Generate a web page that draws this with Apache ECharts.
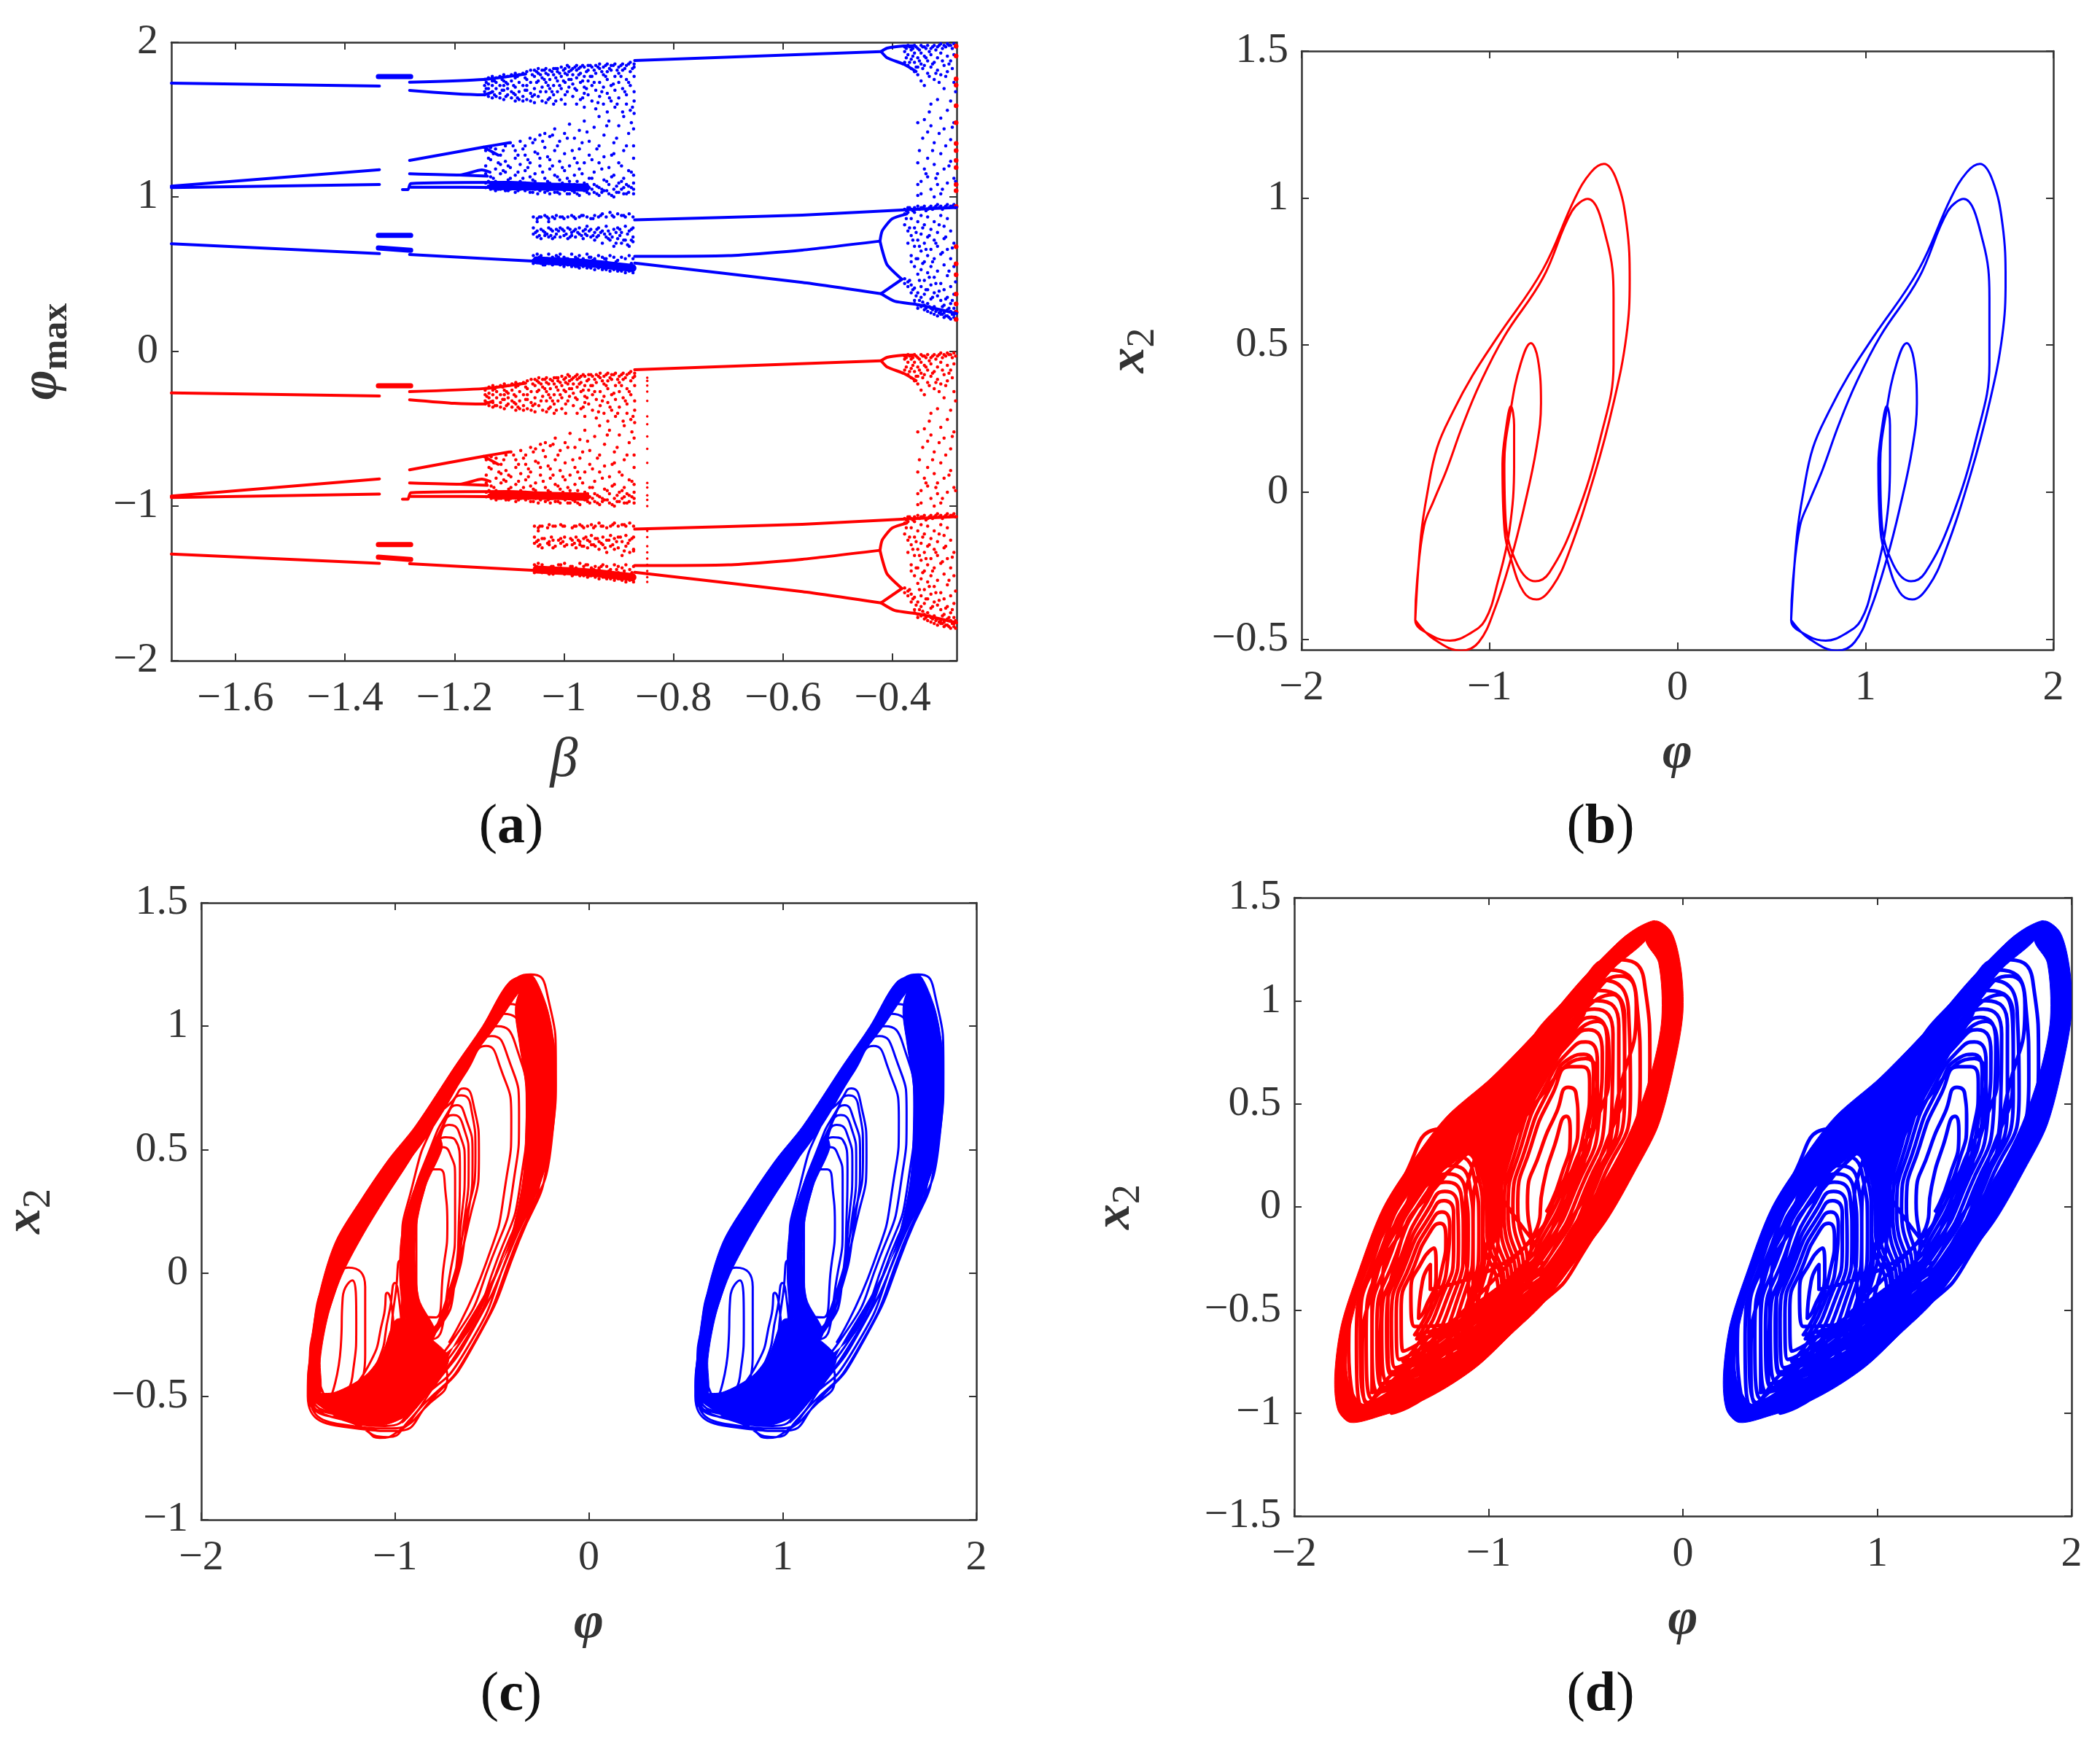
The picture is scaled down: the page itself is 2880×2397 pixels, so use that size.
<!DOCTYPE html>
<html><head><meta charset="utf-8">
<style>html,body{margin:0;padding:0;background:#fff}#c{width:2880px;height:2397px}</style>
<script src="https://cdn.jsdelivr.net/npm/echarts@6/dist/echarts.min.js"></script></head>
<body><div id="c"></div>
<script>
// ---------- tick values ----------
const aXTicks=[-1.6,-1.4,-1.2,-1,-.8,-.6,-.4];
const aYTicks=[-2,-1,0,1,2];
const phiTicks=[-2,-1,0,1,2];
const bYTicks=[-.5,0,.5,1,1.5];
const cYTicks=[-1,-.5,0,.5,1,1.5];
const dYTicks=[-1.5,-1,-.5,0,.5,1,1.5];
// ---------- panel (a) branches: flat beta,phi lists ----------
const aBlueBranches=[
[-1.717,1.736,-1.337,1.717],[-1.717,1.07,-1.337,1.176],[-1.717,1.06,-1.337,1.08],[-1.717,.697,-1.337,.633],
[-1.282,1.742,-1.147,1.76,-1.07,1.795],[-1.282,1.689,-1.2,1.667,-1.147,1.66,-1.13,1.68],
[-1.282,1.236,-1.147,1.322,-1.1,1.35],[-1.147,1.322,-1.12,1.27],
[-1.282,1.15,-1.19,1.142,-1.15,1.174,-1.135,1.16],[-1.19,1.142,-1.14,1.134],
[-1.295,1.047,-1.285,1.047,-1.28,1.086,-1.1,1.094,-1.02,1.08],[-1.28,1.063,-1.1,1.06,-1.02,1.05],
[-1.282,.627,-1.058,.585,-.95,.56],
[-.871,1.882,-.421,1.94],[-.421,1.94,-.41,1.962,-.38,1.976,-.36,1.978],[-.421,1.94,-.41,1.90,-.379,1.857,-.357,1.811],
[-.871,.851,-.565,.882,-.37,.918,-.283,.932],[-.871,.615,-.7,.62,-.565,.656,-.423,.714],
[-.423,.714,-.419,.78,-.401,.858,-.374,.89],[-.423,.714,-.419,.656,-.41,.561,-.383,.467],
[-.871,.572,-.565,.447,-.421,.374],[-.421,.374,-.383,.467],[-.421,.374,-.396,.325,-.352,.302,-.283,.245]];
const aBlueBlocks=[[-1.339,1.778,-1.28,1.778],[-1.339,.751,-1.28,.751],[-1.339,.67,-1.28,.655]];
const aBlueDense=[[-1.13,1.07,-1.0,1.065,-.96,1.06],[-1.05,.59,-.95,.57,-.875,.54]];
const aRedBranches=[
[-1.717,-.268,-1.337,-.288],[-1.717,-.935,-1.337,-.824],[-1.717,-.945,-1.337,-.922],[-1.717,-1.31,-1.337,-1.37],
[-1.282,-.26,-1.147,-.24,-1.07,-.205],[-1.282,-.312,-1.2,-.335,-1.147,-.34,-1.13,-.32],
[-1.282,-.765,-1.147,-.678,-1.1,-.65],[-1.147,-.678,-1.12,-.73],
[-1.282,-.85,-1.19,-.858,-1.15,-.826,-1.135,-.84],[-1.19,-.858,-1.14,-.866],
[-1.295,-.955,-1.285,-.955,-1.28,-.914,-1.1,-.906,-1.02,-.92],[-1.28,-.937,-1.1,-.94,-1.02,-.95],
[-1.282,-1.373,-1.058,-1.415,-.95,-1.44],
[-.871,-.118,-.421,-.06],[-.421,-.06,-.41,-.038,-.38,-.024,-.36,-.022],[-.421,-.06,-.41,-.10,-.379,-.143,-.357,-.189],
[-.871,-1.149,-.565,-1.118,-.37,-1.082,-.283,-1.068],[-.871,-1.385,-.7,-1.38,-.565,-1.344,-.423,-1.286],
[-.423,-1.286,-.419,-1.22,-.401,-1.142,-.374,-1.11],[-.423,-1.286,-.419,-1.344,-.41,-1.439,-.383,-1.533],
[-.871,-1.428,-.565,-1.553,-.421,-1.626],[-.421,-1.626,-.383,-1.533],[-.421,-1.626,-.396,-1.675,-.352,-1.698,-.283,-1.755]];
const aRedBlocks=[[-1.339,-.222,-1.28,-.222],[-1.339,-1.249,-1.28,-1.249],[-1.339,-1.33,-1.28,-1.345]];
const aRedDense=[[-1.13,-.93,-1.0,-.935,-.96,-.94],[-1.05,-1.41,-.95,-1.43,-.875,-1.46]];
// ---------- panel (a) scattered points: [beta, phi, phi, ...] ----------
const aBlueCloudTop=[[-1.145,1.76,1.68,1.72,1.66],[-1.138,1.77,1.70,1.65,1.73],[-1.131,1.75,1.68,1.72,1.64,1.78],[-1.124,1.70,1.77,1.65,1.74],[-1.117,1.78,1.67,1.72,1.64],[-1.110,1.75,1.69,1.79,1.63,1.72],[-1.103,1.73,1.66,1.78,1.70],[-1.096,1.79,1.64,1.75,1.68],[-1.089,1.71,1.62,1.77,1.66,1.80],[-1.082,1.74,1.63,1.68,1.79],[-1.075,1.80,1.72,1.65,1.62],[-1.068,1.76,1.69,1.63,1.81,1.72],[-1.061,1.82,1.74,1.67,1.62],[-1.054,1.78,1.70,1.82,1.61,1.66],[-1.047,1.83,1.75,1.65,1.80],[-1.040,1.71,1.82,1.62,1.77],[-1.033,1.80,1.83,1.68,1.61,1.74],[-1.026,1.76,1.82,1.64,1.70],[-1.019,1.83,1.72,1.60,1.79,1.66],[-1.012,1.81,1.75,1.68,1.83],[-1.005,1.84,1.70,1.78,1.63],[-0.998,1.80,1.83,1.66,1.74,1.60],[-0.991,1.76,1.84,1.71,1.81],[-0.984,1.83,1.65,1.79,1.73],[-0.977,1.85,1.77,1.60,1.69,1.82],[-0.970,1.80,1.84,1.74,1.63],[-0.963,1.84,1.71,1.78,1.58,1.67],[-0.956,1.82,1.85,1.75,1.66],[-0.949,1.78,1.84,1.62,1.72],[-0.942,1.85,1.80,1.69,1.57],[-0.935,1.83,1.74,1.86,1.65],[-0.928,1.84,1.79,1.60,1.71],[-0.921,1.86,1.76,1.81,1.67,1.55],[-0.914,1.82,1.85,1.72,1.62],[-0.907,1.86,1.78,1.58,1.69],[-0.900,1.84,1.80,1.74,1.64],[-0.893,1.86,1.82,1.55,1.70],[-0.886,1.85,1.76,1.66,1.60],[-0.879,1.87,1.81,1.72,1.56],[-0.872,1.86,1.84,1.78,1.68,1.62,1.54],
[-1.142,1.70,1.74],[-1.127,1.66,1.75],[-1.113,1.69,1.76],[-1.106,1.65,1.74],[-1.092,1.72,1.67],[-1.085,1.78,1.64],[-1.071,1.69,1.77],[-1.058,1.79,1.65],[-1.05,1.74,1.81],[-1.043,1.68,1.79],[-1.036,1.76,1.82],[-1.029,1.79,1.63,1.72],[-1.022,1.81,1.68],[-1.015,1.77,1.83,1.62],[-1.008,1.80,1.72],[-1.001,1.82,1.75],[-.994,1.68,1.79,1.85],[-.987,1.82,1.76],[-.98,1.70,1.84],[-.973,1.79,1.83],[-.966,1.75,1.85,1.64],[-.959,1.81,1.70],[-.952,1.85,1.78],[-.945,1.74,1.82],[-.938,1.84,1.61],[-.931,1.81,1.68],[-.924,1.78,1.85],[-.917,1.83,1.64],[-.91,1.85,1.73],[-.903,1.82,1.60],[-.896,1.78,1.85],[-.889,1.83,1.68],[-.882,1.86,1.74],[-.875,1.83,1.58]];
const aBlueCloudMid=[[-1.143,1.30,1.20,1.15,1.09,1.06],[-1.134,1.32,1.24,1.13,1.08,1.05],[-1.125,1.31,1.18,1.10,1.07,1.04],[-1.116,1.27,1.21,1.15,1.09,1.05],[-1.107,1.33,1.16,1.23,1.08,1.06,1.04],[-1.098,1.35,1.19,1.12,1.09,1.05],[-1.089,1.30,1.25,1.14,1.07,1.03],[-1.080,1.36,1.21,1.10,1.08,1.05],[-1.071,1.33,1.27,1.17,1.09,1.04],[-1.062,1.38,1.22,1.13,1.06,1.03],[-1.053,1.37,1.29,1.15,1.10,1.05],[-1.044,1.40,1.20,1.25,1.08,1.04],[-1.035,1.41,1.32,1.12,1.07,1.03],[-1.026,1.39,1.24,1.18,1.09,1.05,1.02],[-1.017,1.44,1.30,1.14,1.06,1.03],[-1.008,1.23,1.36,1.11,1.08,1.02],[-0.999,1.41,1.28,1.17,1.07,1.04],[-0.990,1.20,1.47,1.10,1.05,1.02],[-0.981,1.38,1.25,1.14,1.08,1.03],[-0.972,1.43,1.31,1.18,1.06,1.01],[-0.963,1.49,1.22,1.09,1.04],[-0.954,1.36,1.27,1.12,1.06,1.02],[-0.945,1.45,1.16,1.08,1.03],[-0.936,1.52,1.33,1.22,1.06,1.01],[-0.927,1.40,1.26,1.11,1.04],[-0.918,1.49,1.19,1.08,1.02],[-0.909,1.35,1.28,1.14,1.05,1.00],[-0.900,1.46,1.22,1.09,1.03],[-0.891,1.52,1.30,1.12,1.06,1.02],[-0.882,1.41,1.17,1.07,1.03],[-0.873,1.44,1.33,1.25,1.14,1.09,1.05,1.02],
[-1.138,1.25,1.1,1.07],[-1.129,1.28,1.12,1.06],[-1.12,1.22,1.09,1.05],[-1.111,1.3,1.17,1.07],[-1.102,1.2,1.11,1.04],[-1.093,1.33,1.08,1.06],[-1.084,1.27,1.16,1.04],[-1.075,1.31,1.12,1.07],[-1.066,1.24,1.19,1.05],[-1.057,1.35,1.11,1.03],[-1.048,1.28,1.07,1.02],[-1.039,1.36,1.16,1.06],[-1.03,1.26,1.1,1.04],[-1.021,1.4,1.2,1.07],[-1.012,1.33,1.13,1.03],[-1.003,1.19,1.09,1.05],[-.994,1.38,1.12,1.02],[-.985,1.3,1.07,1.04],[-.976,1.22,1.1,1.02],[-.967,1.35,1.15,1.06],[-.958,1.42,1.08,1.03],[-.949,1.24,1.12,1.05],[-.94,1.31,1.07,1.02],[-.931,1.18,1.05,1.03],[-.922,1.46,1.1,1.04],[-.913,1.27,1.13,1.01],[-.904,1.38,1.07,1.03],[-.895,1.2,1.1,1.05],[-.886,1.33,1.08,1.02],[-.877,1.48,1.16,1.06]];
const aBlueCloudLow=[[-1.056,.87,.80,.76,.62,.59,.57],[-1.049,.86,.84,.78,.74,.63,.60,.58],[-1.042,.87,.79,.73,.62,.58,.57],[-1.035,.88,.77,.75,.60,.59,.56],[-1.028,.86,.84,.80,.74,.63,.58,.57],[-1.021,.87,.78,.73,.61,.59,.56],[-1.014,.88,.79,.76,.62,.60,.57],[-1.007,.87,.74,.80,.63,.58,.56],[-1.000,.86,.78,.75,.61,.59,.55],[-0.993,.87,.80,.73,.60,.57,.56],[-0.986,.88,.77,.75,.63,.58,.55],[-0.979,.86,.79,.74,.61,.57,.55],[-0.972,.87,.80,.76,.62,.59,.54],[-0.965,.88,.78,.73,.60,.56,.55],[-0.958,.87,.81,.75,.63,.58,.54],[-0.951,.86,.79,.74,.61,.57,.54],[-0.944,.88,.77,.72,.60,.59,.53],[-0.937,.87,.80,.75,.62,.56,.54],[-0.930,.89,.78,.70,.61,.55,.53],[-0.923,.87,.81,.74,.60,.58,.53],[-0.916,.90,.76,.72,.62,.55,.52],[-0.909,.87,.79,.68,.61,.57,.53],[-0.902,.89,.80,.73,.59,.56,.52],[-0.895,.88,.77,.70,.61,.54,.52],[-0.888,.87,.81,.72,.60,.56,.51],[-0.881,.89,.78,.68,.62,.55,.52],[-0.874,.87,.80,.74,.71,.60,.53,.51],
[-1.052,.77,.6,.58],[-1.045,.87,.75,.61],[-1.038,.78,.59,.56],[-1.031,.87,.76,.6],[-1.024,.79,.75,.58],[-1.017,.86,.74,.6],[-1.01,.78,.61,.57],[-1.003,.87,.79,.59],[-.996,.76,.6,.57],[-.989,.79,.74,.58],[-.982,.87,.78,.56],[-.975,.77,.6,.55],[-.968,.88,.75,.58],[-.961,.79,.76,.56],[-.954,.78,.61,.55],[-.947,.86,.75,.59],[-.94,.79,.74,.55],[-.933,.88,.77,.58],[-.926,.76,.6,.54],[-.919,.78,.73,.57],[-.912,.88,.74,.54],[-.905,.77,.7,.58],[-.898,.79,.75,.53],[-.891,.88,.72,.56],[-.884,.76,.69,.53],[-.877,.79,.72,.57]];
const aBlueCloudEdge=[[-0.378,1.97,1.94,1.87,.92,.89,.82,.47,.44],[-0.372,1.98,1.92,1.85,.93,.90,.78,.70,.45,.42],[-0.366,1.97,1.95,1.89,1.83,.92,.86,.75,.62,.58,.43,.38],[-0.360,1.98,1.93,1.87,1.81,.93,.90,.80,.68,.55,.41,.33,.31],[-0.354,1.96,1.90,1.84,1.79,1.48,1.22,1.08,1.01,.94,.84,.72,.60,.50,.38,.30,.28],[-0.348,1.98,1.93,1.86,1.75,1.10,1.02,.93,.88,.76,.65,.53,.42,.35,.29],[-0.342,1.97,1.91,1.85,1.72,1.50,1.18,.94,.82,.70,.58,.46,.37,.30,.27],[-0.336,1.98,1.88,1.80,1.42,1.25,1.13,.92,.87,.74,.62,.51,.40,.31,.26],[-0.330,1.96,1.92,1.84,1.60,1.46,1.05,.94,.79,.66,.55,.43,.34,.28,.25],[-0.324,1.98,1.87,1.76,1.35,1.21,1.00,.93,.84,.72,.60,.48,.38,.29,.24],[-0.318,1.97,1.90,1.82,1.63,1.15,1.08,.95,.77,.68,.52,.36,.27,.23],[-0.312,1.99,1.93,1.79,1.51,1.28,1.02,.94,.88,.63,.44,.33,.26,.24],[-0.306,1.98,1.85,1.70,1.44,1.18,.93,.81,.73,.56,.40,.30,.25,.22],[-0.300,1.99,1.91,1.81,1.56,1.09,.95,.86,.66,.49,.35,.27,.23],[-0.294,1.98,1.88,1.62,1.37,1.23,.94,.78,.60,.42,.31,.26,.21],[-0.288,1.99,1.92,1.74,1.48,1.12,.95,.70,.55,.37,.28,.24,.22],
[-.375,1.96,1.9,.91,.86],[-.369,1.97,1.87,.93,.8,.46],[-.363,1.96,1.91,.91,.72,.4],[-.357,1.97,1.84,.92,.77,.6,.36],[-.351,1.95,1.88,1.3,.92,.68,.46,.33],[-.345,1.97,1.83,1.38,.93,.8,.57,.32],[-.339,1.96,1.9,1.15,.91,.66,.4,.28],[-.333,1.94,1.78,1.55,.93,.75,.48,.29],[-.327,1.97,1.86,1.3,.92,.58,.35,.27],[-.321,1.95,1.8,1.12,.94,.7,.44,.26],[-.315,1.98,1.74,1.41,.93,.82,.39,.25],[-.309,1.96,1.88,1.05,.92,.64,.29,.24],[-.303,1.97,1.78,1.33,.94,.74,.34,.23],[-.297,1.98,1.86,1.2,.93,.52,.28,.22],[-.291,1.96,1.83,1.45,.94,.67,.33,.24],[-.285,1.97,1.68,1.1,.93,.45,.26,.21]];
const aRedCloudTop=[[-1.144,-.25,-.32,-.28,-.34],[-1.137,-.23,-.30,-.35,-.27],[-1.130,-.25,-.33,-.28,-.36,-.22],[-1.123,-.30,-.23,-.35,-.26],[-1.116,-.22,-.33,-.28,-.36],[-1.109,-.25,-.31,-.21,-.37,-.28],[-1.102,-.27,-.34,-.22,-.30],[-1.095,-.21,-.36,-.25,-.32],[-1.088,-.29,-.38,-.23,-.34,-.20],[-1.081,-.26,-.37,-.32,-.21],[-1.074,-.20,-.28,-.35,-.38],[-1.067,-.24,-.31,-.37,-.19,-.28],[-1.060,-.18,-.26,-.33,-.38],[-1.053,-.22,-.30,-.18,-.39,-.34],[-1.046,-.17,-.25,-.35,-.20],[-1.039,-.29,-.18,-.38,-.23],[-1.032,-.20,-.17,-.32,-.39,-.26],[-1.025,-.24,-.18,-.36,-.30],[-1.018,-.17,-.28,-.40,-.21,-.34],[-1.011,-.19,-.25,-.32,-.17],[-1.004,-.16,-.30,-.22,-.37],[-0.997,-.20,-.17,-.34,-.26,-.40],[-0.990,-.24,-.16,-.29,-.19],[-0.983,-.17,-.35,-.21,-.27],[-0.976,-.15,-.23,-.40,-.31,-.18],[-0.969,-.20,-.16,-.26,-.37],[-0.962,-.16,-.29,-.22,-.42,-.33],[-0.955,-.18,-.15,-.25,-.34],[-0.948,-.22,-.16,-.38,-.28],[-0.941,-.15,-.20,-.31,-.43],[-0.934,-.17,-.26,-.14,-.35],[-0.927,-.16,-.21,-.40,-.29],[-0.920,-.14,-.24,-.19,-.33,-.45],[-0.913,-.18,-.15,-.28,-.38],[-0.906,-.14,-.22,-.42,-.31],[-0.899,-.16,-.20,-.26,-.36],[-0.892,-.14,-.18,-.45,-.30],[-0.885,-.15,-.24,-.34,-.40],[-0.878,-.13,-.19,-.28,-.44],[-0.871,-.14,-.16,-.22,-.32,-.38,-.46],
[-1.141,-.29,-.33],[-1.126,-.24,-.35],[-1.112,-.31,-.23],[-1.105,-.35,-.26],[-1.091,-.28,-.33],[-1.084,-.22,-.36],[-1.07,-.31,-.23],[-1.057,-.21,-.35],[-1.049,-.26,-.19],[-1.042,-.32,-.21],[-1.035,-.24,-.18],[-1.028,-.21,-.37,-.28],[-1.021,-.19,-.32],[-1.014,-.23,-.17,-.38],[-1.007,-.2,-.28],[-1.0,-.18,-.25],[-.993,-.32,-.21,-.15],[-.986,-.18,-.24],[-.979,-.3,-.16],[-.972,-.21,-.17],[-.965,-.25,-.15,-.36],[-.958,-.19,-.3],[-.951,-.15,-.22],[-.944,-.26,-.18],[-.937,-.16,-.39],[-.93,-.19,-.32],[-.923,-.22,-.15],[-.916,-.17,-.36],[-.909,-.15,-.27],[-.902,-.18,-.4],[-.895,-.22,-.15],[-.888,-.17,-.32],[-.881,-.14,-.26],[-.874,-.17,-.42]];
const aRedCloudMid=[[-1.142,-.70,-.80,-.85,-.91,-.94],[-1.133,-.68,-.76,-.87,-.92,-.95],[-1.124,-.69,-.82,-.90,-.93,-.96],[-1.115,-.73,-.79,-.85,-.91,-.95],[-1.106,-.67,-.84,-.77,-.92,-.94,-.96],[-1.097,-.65,-.81,-.88,-.91,-.95],[-1.088,-.70,-.75,-.86,-.93,-.97],[-1.079,-.64,-.79,-.90,-.92,-.95],[-1.070,-.67,-.73,-.83,-.91,-.96],[-1.061,-.62,-.78,-.87,-.94,-.97],[-1.052,-.63,-.71,-.85,-.90,-.95],[-1.043,-.60,-.80,-.75,-.92,-.96],[-1.034,-.59,-.68,-.88,-.93,-.97],[-1.025,-.61,-.76,-.82,-.91,-.95,-.98],[-1.016,-.56,-.70,-.86,-.94,-.97],[-1.007,-.77,-.64,-.89,-.92,-.98],[-0.998,-.59,-.72,-.83,-.93,-.96],[-0.989,-.80,-.53,-.90,-.95,-.98],[-0.980,-.62,-.75,-.86,-.92,-.97],[-0.971,-.57,-.69,-.82,-.94,-.99],[-0.962,-.51,-.78,-.91,-.96],[-0.953,-.64,-.73,-.88,-.94,-.98],[-0.944,-.55,-.84,-.92,-.97],[-0.935,-.48,-.67,-.78,-.94,-.99],[-0.926,-.60,-.74,-.89,-.96],[-0.917,-.51,-.81,-.92,-.98],[-0.908,-.65,-.72,-.86,-.95,-1.0],[-0.899,-.54,-.78,-.91,-.97],[-0.890,-.48,-.70,-.88,-.94,-.98],[-0.881,-.59,-.83,-.93,-.97],[-0.872,-.56,-.67,-.75,-.86,-.91,-.95,-.98],
[-1.137,-.75,-.9,-.93],[-1.128,-.72,-.88,-.94],[-1.119,-.78,-.91,-.95],[-1.11,-.7,-.83,-.93],[-1.101,-.8,-.89,-.96],[-1.092,-.67,-.92,-.94],[-1.083,-.73,-.84,-.96],[-1.074,-.69,-.88,-.93],[-1.065,-.76,-.81,-.95],[-1.056,-.65,-.89,-.97],[-1.047,-.72,-.93,-.98],[-1.038,-.64,-.84,-.94],[-1.029,-.74,-.9,-.96],[-1.02,-.6,-.8,-.93],[-1.011,-.67,-.87,-.97],[-1.002,-.81,-.91,-.95],[-.993,-.62,-.88,-.98],[-.984,-.7,-.93,-.96],[-.975,-.78,-.9,-.98],[-.966,-.65,-.85,-.94],[-.957,-.58,-.92,-.97],[-.948,-.76,-.88,-.95],[-.939,-.69,-.93,-.98],[-.93,-.82,-.95,-.97],[-.921,-.54,-.9,-.96],[-.912,-.73,-.87,-.99],[-.903,-.62,-.93,-.97],[-.894,-.8,-.9,-.95],[-.885,-.67,-.92,-.98],[-.876,-.52,-.84,-.94]];
const aRedCloudLow=[[-1.054,-1.13,-1.20,-1.24,-1.38,-1.41,-1.43],[-1.047,-1.14,-1.16,-1.22,-1.26,-1.37,-1.40,-1.42],[-1.040,-1.13,-1.21,-1.27,-1.38,-1.42,-1.43],[-1.027,-1.12,-1.23,-1.25,-1.40,-1.41,-1.44],[-1.020,-1.13,-1.22,-1.27,-1.39,-1.41,-1.44],[-1.006,-1.12,-1.21,-1.24,-1.38,-1.40,-1.43],[-0.999,-1.13,-1.26,-1.20,-1.37,-1.42,-1.44],[-0.985,-1.14,-1.22,-1.25,-1.39,-1.41,-1.45],[-0.978,-1.13,-1.20,-1.27,-1.40,-1.43,-1.44],[-0.971,-1.12,-1.23,-1.25,-1.37,-1.42,-1.45],[-0.964,-1.14,-1.21,-1.26,-1.39,-1.41,-1.45],[-0.957,-1.13,-1.22,-1.27,-1.38,-1.43,-1.46],[-0.950,-1.12,-1.19,-1.25,-1.40,-1.44,-1.45],[-0.943,-1.13,-1.21,-1.26,-1.39,-1.42,-1.46],[-0.936,-1.11,-1.23,-1.28,-1.40,-1.41,-1.47],[-0.929,-1.13,-1.20,-1.25,-1.38,-1.44,-1.46],[-0.922,-1.14,-1.22,-1.30,-1.39,-1.45,-1.47],[-0.915,-1.13,-1.19,-1.26,-1.41,-1.43,-1.47],[-0.908,-1.11,-1.21,-1.28,-1.38,-1.45,-1.48],[-0.901,-1.13,-1.20,-1.27,-1.39,-1.43,-1.47],[-0.894,-1.12,-1.23,-1.32,-1.40,-1.46,-1.48],[-0.887,-1.13,-1.19,-1.26,-1.38,-1.44,-1.49],[-0.880,-1.11,-1.22,-1.30,-1.41,-1.45,-1.48],[-0.873,-1.13,-1.20,-1.28,-1.29,-1.39,-1.47,-1.49],
[-1.05,-1.23,-1.39],[-1.044,-1.13,-1.25,-1.41],[-1.036,-1.21,-1.4],[-1.03,-1.14,-1.24,-1.43],[-1.023,-1.2,-1.39],[-1.016,-1.13,-1.26,-1.42],[-1.01,-1.22,-1.38],[-1.002,-1.13,-1.23,-1.41],[-.995,-1.25,-1.43],[-.988,-1.21,-1.39],[-.981,-1.13,-1.24,-1.44],[-.974,-1.22,-1.41],[-.967,-1.13,-1.26,-1.43],[-.96,-1.2,-1.38],[-.953,-1.23,-1.45],[-.946,-1.14,-1.25,-1.41],[-.939,-1.21,-1.44],[-.932,-1.13,-1.24,-1.39],[-.925,-1.27,-1.46],[-.918,-1.22,-1.42],[-.911,-1.12,-1.25,-1.46],[-.904,-1.23,-1.41],[-.897,-1.2,-1.47],[-.89,-1.12,-1.29,-1.42],[-.883,-1.24,-1.47],[-.876,-1.21,-1.43]];
const aRedColumn=[[-0.848,-.17,-.19,-.22,-.26,-.32,-.42,-.47,-.55,-.63,-.72,-.85,-.88,-.93,-.96,-1.0,-1.16,-1.20,-1.26,-1.30,-1.34,-1.38,-1.42,-1.44,-1.46,-1.49]];
const aRedCloudEdge=[[-0.378,-.03,-.05,-.12,-1.08,-1.11,-1.18,-1.53,-1.56],[-0.372,-.02,-.07,-.15,-1.07,-1.10,-1.22,-1.30,-1.55,-1.58],[-0.366,-.03,-.05,-.11,-.17,-1.08,-1.14,-1.25,-1.38,-1.42,-1.57,-1.62],[-0.360,-.02,-.07,-.13,-.19,-1.07,-1.10,-1.20,-1.32,-1.45,-1.59,-1.67,-1.69],[-0.354,-.04,-.10,-.16,-.21,-.52,-.78,-.92,-.99,-1.06,-1.16,-1.28,-1.40,-1.50,-1.62,-1.70,-1.72],[-0.348,-.02,-.07,-.14,-.25,-.90,-.98,-1.07,-1.12,-1.24,-1.35,-1.47,-1.58,-1.65,-1.71],[-0.342,-.03,-.09,-.15,-.28,-.50,-.82,-1.06,-1.18,-1.30,-1.42,-1.54,-1.63,-1.70,-1.73],[-0.336,-.02,-.12,-.20,-.58,-.75,-.87,-1.08,-1.13,-1.26,-1.38,-1.49,-1.60,-1.69,-1.74],[-0.330,-.04,-.08,-.16,-.40,-.54,-.95,-1.06,-1.21,-1.34,-1.45,-1.57,-1.66,-1.72,-1.75],[-0.324,-.02,-.13,-.24,-.65,-.79,-1.00,-1.07,-1.16,-1.28,-1.40,-1.52,-1.62,-1.71,-1.76],[-0.318,-.03,-.10,-.18,-.37,-.85,-.92,-1.05,-1.23,-1.32,-1.48,-1.64,-1.73,-1.77],[-0.312,-.01,-.07,-.21,-.49,-.72,-.98,-1.06,-1.12,-1.37,-1.56,-1.67,-1.74,-1.76],[-0.306,-.02,-.15,-.30,-.56,-.82,-1.07,-1.19,-1.27,-1.44,-1.60,-1.70,-1.75,-1.78],[-0.300,-.01,-.09,-.19,-.44,-.91,-1.05,-1.14,-1.34,-1.51,-1.65,-1.73,-1.77],[-0.294,-.02,-.12,-.38,-.63,-.77,-1.06,-1.22,-1.40,-1.58,-1.69,-1.74,-1.79],[-0.288,-.01,-.08,-.26,-.52,-.88,-1.05,-1.30,-1.45,-1.63,-1.72,-1.76,-1.78],
[-.375,-.04,-.1,-1.09,-1.14],[-.369,-.03,-.13,-1.07,-1.2,-1.54],[-.363,-.04,-.09,-1.09,-1.28,-1.6],[-.357,-.03,-.16,-1.08,-1.23,-1.4,-1.64],[-.351,-.05,-.12,-.7,-1.08,-1.32,-1.54,-1.67],[-.345,-.03,-.17,-.62,-1.07,-1.2,-1.43,-1.68],[-.339,-.04,-.1,-.85,-1.09,-1.34,-1.6,-1.72],[-.333,-.06,-.22,-.45,-1.07,-1.25,-1.52,-1.71],[-.327,-.03,-.14,-.7,-1.08,-1.42,-1.65,-1.73],[-.321,-.05,-.2,-.88,-1.06,-1.3,-1.56,-1.74],[-.315,-.02,-.26,-.59,-1.07,-1.18,-1.61,-1.75],[-.309,-.04,-.12,-.95,-1.08,-1.36,-1.71,-1.76],[-.303,-.03,-.22,-.67,-1.06,-1.26,-1.66,-1.77],[-.297,-.02,-.14,-.8,-1.07,-1.48,-1.72,-1.78],[-.291,-.04,-.17,-.55,-1.06,-1.33,-1.67,-1.76],[-.285,-.03,-.32,-.9,-1.07,-1.55,-1.74,-1.79]];
const aRedRightEdge=[[-0.284,1.975,1.912,1.763,1.723,1.59,1.48,1.346,1.30,1.236,1.19,1.08,1.04,.937,.678,.567,.497,.372,.308,.253,.207]];
// ---------- panel (b) orbits: flat phi,x2 ----------
const bRedPath=[-1.395,-.435,-1.296,-.50,-1.149,-.539,-1.057,-.51,-.972,-.397,-.886,-.227,-.818,-.057,-.75,.151,-.726,.303,-.743,.454,-.78,.507,-.835,.435,-.886,.284,-.921,.095,-.914,-.095,-.852,-.246,-.757,-.303,-.682,-.274,-.545,-.095,-.408,.189,-.34,.435,-.34,.662,-.374,.851,-.477,.997,-.562,.955,-.716,.728,-.921,.53,-1.05,.37,-1.143,.227,-1.228,.076,-1.296,-.028,-1.348,-.114,-1.385,-.3,-1.395,-.435,-1.296,-.492,-1.211,-.505,-1.108,-.482,-1.023,-.435,-.955,-.303,-.894,-.13,-.869,.095,-.869,.227,-.886,.293,-.914,.208,-.931,.095,-.92,-.13,-.886,-.227,-.818,-.34,-.75,-.365,-.664,-.32,-.579,-.208,-.442,.057,-.34,.303,-.272,.53,-.254,.72,-.27,.908,-.323,1.06,-.391,1.116,-.46,1.088,-.545,1.0,-.716,.757,-.955,.53,-1.09,.397,-1.194,.274,-1.279,.151,-1.33,0,-1.365,-.151,-1.395,-.435];
const bBluePath=[.605,-.435,.704,-.50,.851,-.539,.943,-.51,1.028,-.397,1.114,-.227,1.182,-.057,1.25,.151,1.274,.303,1.257,.454,1.22,.507,1.165,.435,1.114,.284,1.079,.095,1.086,-.095,1.148,-.246,1.243,-.303,1.318,-.274,1.455,-.095,1.592,.189,1.66,.435,1.66,.662,1.626,.851,1.523,.997,1.438,.955,1.284,.728,1.079,.53,.95,.37,.857,.227,.772,.076,.704,-.028,.652,-.114,.615,-.3,.605,-.435,.704,-.492,.789,-.505,.892,-.482,.977,-.435,1.045,-.303,1.106,-.13,1.131,.095,1.131,.227,1.114,.293,1.086,.208,1.069,.095,1.08,-.13,1.114,-.227,1.182,-.34,1.25,-.365,1.336,-.32,1.421,-.208,1.558,.057,1.66,.303,1.728,.53,1.746,.72,1.73,.908,1.677,1.06,1.609,1.116,1.54,1.088,1.455,1.0,1.284,.757,1.045,.53,.91,.397,.806,.274,.721,.151,.67,0,.635,-.151,.605,-.435];
// ---------- panel (c): solid zones as outlines, then fine orbit ----------
const cRedSolidRight=[-.30,1.209,-.221,1.09,-.18,.933,-.169,.708,-.204,.483,-.29,.281,-.411,.101,-.549,-.101,-.687,-.281,-.826,-.483,-.964,-.607,-.826,-.371,-.739,-.326,-.618,-.236,-.515,-.079,-.411,.124,-.342,.371,-.325,.596,-.325,.753,-.359,.933,-.377,1.09];
const cRedSolidDiag=[-.30,1.209,-.411,1.18,-.549,1.0,-.687,.843,-.895,.596,-1.033,.461,-1.171,.303,-1.309,.124,-1.396,-.101,-1.44,-.326,-1.447,-.494,-1.385,-.494,-1.385,-.348,-1.344,-.169,-1.275,-.011,-1.171,.146,-1.05,.303,-.929,.449,-.791,.629,-.618,.854,-.48,1.0,-.394,1.101];
const cRedSolidFan=[-1.447,-.494,-1.344,-.562,-1.206,-.607,-1.067,-.618,-.929,-.573,-.826,-.483,-.722,-.348,-.826,-.258,-.929,-.191,-.998,-.191,-1.067,-.326,-1.154,-.416,-1.309,-.483];
const cRedSolidSwirl=[-.774,.551,-.877,.393,-.964,.169,-.974,-.056,-.929,-.213,-.826,-.281,-.791,-.236,-.877,-.101,-.895,.146,-.843,.348,-.756,.506];
const cRedPath=[-.72,-.28,-.53,.04,-.43,.36,-.40,.62,-.46,.84,-.53,.92,-.63,.82,-.80,.60,-1.0,.38,-1.2,.13,-1.33,-.12,-1.40,-.34,-1.42,-.47,-1.30,-.55,-1.12,-.55,-.95,-.45,-.70,-.27,-.50,.06,-.39,.36,-.36,.64,-.42,.88,-.50,.96,-.62,.86,-.79,.62,-1.0,.40,-1.2,.16,-1.34,-.09,-1.41,-.32,-1.43,-.48,-1.28,-.57,-1.10,-.58,-.93,-.47,-.68,-.30,-.47,.06,-.35,.38,-.32,.66,-.38,.93,-.47,1.0,-.60,.88,-.78,.63,-1.0,.41,-1.2,.19,-1.32,-.02,-1.39,-.26,-1.44,-.49,-1.26,-.59,-1.08,-.60,-.90,-.50,-.66,-.30,-.44,.08,-.31,.40,-.28,.70,-.34,.98,-.44,1.05,-.58,.90,-.76,.66,-.98,.42,-1.18,.22,-1.30,.03,-1.38,-.2,-1.44,-.47,-1.24,-.60,-1.05,-.62,-.88,-.52,-.64,-.32,-.41,.09,-.27,.42,-.24,.74,-.31,1.02,-.41,1.09,-.55,.94,-.74,.69,-.95,.46,-1.16,.24,-1.32,.02,-1.42,-.25,-1.44,-.49,-1.22,-.62,-1.02,-.63,-.85,-.53,-.62,-.32,-.38,.11,-.24,.44,-.21,.76,-.28,1.06,-.38,1.14,-.53,.98,-.72,.72,-.93,.49,-1.14,.27,-1.33,.03,-1.43,-.3,-1.45,-.5,-1.2,-.63,-1.0,-.64,-.82,-.52,-.60,-.30,-.36,.13,-.21,.48,-.18,.8,-.25,1.11,-.34,1.18,-.50,1.02,-.70,.76,-.9,.53,-1.12,.31,-1.3,.08,-1.41,-.25,-1.45,-.49,-1.22,-.6,-1.04,-.665,-.93,-.6,-.8,-.46,-.62,-.26,-.39,.12,-.19,.55,-.17,.82,-.22,1.15,-.30,1.21,-.42,1.14,-.66,.82,-.88,.57,-1.1,.34,-1.28,.12,-1.39,-.14,-1.44,-.42,-1.35,-.55,-1.16,-.63,-1.08,-.668,-.98,-.64,-.85,-.55,-.73,-.42,-.83,-.28,-.756,-.17,-.618,.21,-.567,.48,-.60,.70,-.646,.748,-.70,.70,-.79,.618,-.912,.348,-.964,.08,-.964,-.17,-.895,-.33,-.80,-.25,-.71,-.1,-.63,.2,-.60,.48,-.64,.64,-.68,.68,-.74,.62,-.84,.42,-.93,.15,-.95,-.15,-.88,-.33,-.80,-.25,-.70,-.05,-.66,.2,-.64,.44,-.67,.57,-.72,.60,-.78,.52,-.87,.32,-.93,.1,-.94,-.12,-.86,-.3,-.78,-.22,-.72,-.02,-.69,.2,-.69,.38,-.72,.49,-.76,.51,-.81,.44,-.89,.24,-.92,.05,-.90,-.15,-.79,-.18,-.75,.02,-.73,.2,-.74,.33,-.77,.42,-.80,.42,-.85,.34,-.89,.16,-.89,-.02,-.86,-.2,-.85,-.3,-.74,-.12,-.64,.2,-.585,.48,-.61,.68,-.66,.72,-.72,.66,-.81,.52,-.92,.25,-.96,0,-.92,-.22,-.82,-.27,-.72,-.08,-.645,.2,-.62,.46,-.65,.6,-.70,.64,-.76,.58,-.86,.38,-.94,.12,-.96,-.1,-.9,-.28,-.79,-.24,-.69,-.02,-.67,.22,-.665,.42,-.69,.54,-.74,.55,-.80,.48,-.88,.28,-.92,.08,-.92,-.14,-.9,-.42,-1.1,-.54,-1.3,-.53,-1.378,-.472,-1.413,-.348,-1.378,-.19,-1.31,-.034,-1.24,.022,-1.154,-.056,-1.154,-.326,-1.24,-.483,-1.33,-.5,-1.28,-.3,-1.27,-.1,-1.22,-.03,-1.2,-.2,-1.22,-.42,-1.3,-.53,-1.14,-.38,-1.06,-.18,-1.04,-.08,-1.02,-.12,-1.0,-.3,-.98,-.45,-1.1,-.55,-1.25,-.55,-1.1,-.38,-1.03,-.16,-1.0,-.04,-.98,-.1,-.96,-.3,-.95,-.44,-1.08,-.56,-1.22,-.56,-1.06,-.36,-1.0,-.1,-.975,.05,-.95,-.05,-.93,-.3,-.92,-.44];
const cBlueSolidRight=[1.70,1.209,1.779,1.09,1.82,.933,1.831,.708,1.796,.483,1.71,.281,1.589,.101,1.451,-.101,1.313,-.281,1.174,-.483,1.036,-.607,1.174,-.371,1.261,-.326,1.382,-.236,1.485,-.079,1.589,.124,1.658,.371,1.675,.596,1.675,.753,1.641,.933,1.623,1.09];
const cBlueSolidDiag=[1.70,1.209,1.589,1.18,1.451,1.0,1.313,.843,1.105,.596,.967,.461,.829,.303,.691,.124,.604,-.101,.56,-.326,.553,-.494,.615,-.494,.615,-.348,.656,-.169,.725,-.011,.829,.146,.95,.303,1.071,.449,1.209,.629,1.382,.854,1.52,1.0,1.606,1.101];
const cBlueSolidFan=[.553,-.494,.656,-.562,.794,-.607,.933,-.618,1.071,-.573,1.174,-.483,1.278,-.348,1.174,-.258,1.071,-.191,1.002,-.191,.933,-.326,.846,-.416,.691,-.483];
const cBlueSolidSwirl=[1.226,.551,1.123,.393,1.036,.169,1.026,-.056,1.071,-.213,1.174,-.281,1.209,-.236,1.123,-.101,1.105,.146,1.157,.348,1.244,.506];
const cBluePath=[1.28,-.28,1.47,.04,1.57,.36,1.60,.62,1.54,.84,1.47,.92,1.37,.82,1.20,.60,1.0,.38,.8,.13,.67,-.12,.60,-.34,.58,-.47,.70,-.55,.88,-.55,1.05,-.45,1.30,-.27,1.50,.06,1.61,.36,1.64,.64,1.58,.88,1.50,.96,1.38,.86,1.21,.62,1.0,.40,.8,.16,.66,-.09,.59,-.32,.57,-.48,.72,-.57,.90,-.58,1.07,-.47,1.32,-.30,1.53,.06,1.65,.38,1.68,.66,1.62,.93,1.53,1.0,1.40,.88,1.22,.63,1.0,.41,.8,.19,.68,-.02,.61,-.26,.56,-.49,.74,-.59,.92,-.60,1.10,-.50,1.34,-.30,1.56,.08,1.69,.40,1.72,.70,1.66,.98,1.56,1.05,1.42,.90,1.24,.66,1.02,.42,.82,.22,.70,.03,.62,-.2,.56,-.47,.76,-.60,.95,-.62,1.12,-.52,1.36,-.32,1.59,.09,1.73,.42,1.76,.74,1.69,1.02,1.59,1.09,1.45,.94,1.26,.69,1.05,.46,.84,.24,.68,.02,.58,-.25,.56,-.49,.78,-.62,.98,-.63,1.15,-.53,1.38,-.32,1.62,.11,1.76,.44,1.79,.76,1.72,1.06,1.62,1.14,1.47,.98,1.28,.72,1.07,.49,.86,.27,.67,.03,.57,-.3,.55,-.5,.8,-.63,1.0,-.64,1.18,-.52,1.40,-.30,1.64,.13,1.79,.48,1.82,.8,1.75,1.11,1.66,1.18,1.50,1.02,1.30,.76,1.1,.53,.88,.31,.7,.08,.59,-.25,.55,-.49,.78,-.6,.96,-.665,1.07,-.6,1.2,-.46,1.38,-.26,1.61,.12,1.81,.55,1.83,.82,1.78,1.15,1.70,1.21,1.58,1.14,1.34,.82,1.12,.57,.9,.34,.72,.12,.61,-.14,.56,-.42,.65,-.55,.84,-.63,.92,-.668,1.02,-.64,1.15,-.55,1.27,-.42,1.17,-.28,1.244,-.17,1.382,.21,1.433,.48,1.40,.70,1.354,.748,1.30,.70,1.21,.618,1.088,.348,1.036,.08,1.036,-.17,1.105,-.33,1.20,-.25,1.29,-.1,1.37,.2,1.40,.48,1.36,.64,1.32,.68,1.26,.62,1.16,.42,1.07,.15,1.05,-.15,1.12,-.33,1.20,-.25,1.30,-.05,1.34,.2,1.36,.44,1.33,.57,1.28,.60,1.22,.52,1.13,.32,1.07,.1,1.06,-.12,1.14,-.3,1.22,-.22,1.28,-.02,1.31,.2,1.31,.38,1.28,.49,1.24,.51,1.19,.44,1.11,.24,1.08,.05,1.10,-.15,1.21,-.18,1.25,.02,1.27,.2,1.26,.33,1.23,.42,1.20,.42,1.15,.34,1.11,.16,1.11,-.02,1.14,-.2,1.15,-.3,1.26,-.12,1.36,.2,1.415,.48,1.39,.68,1.34,.72,1.28,.66,1.19,.52,1.08,.25,1.04,0,1.08,-.22,1.18,-.27,1.28,-.08,1.355,.2,1.38,.46,1.35,.6,1.30,.64,1.24,.58,1.14,.38,1.06,.12,1.04,-.1,1.1,-.28,1.21,-.24,1.31,-.02,1.33,.22,1.335,.42,1.31,.54,1.26,.55,1.20,.48,1.12,.28,1.08,.08,1.08,-.14,1.1,-.42,.9,-.54,.7,-.53,.622,-.472,.587,-.348,.622,-.19,.69,-.034,.76,.022,.846,-.056,.846,-.326,.76,-.483,.67,-.5,.72,-.3,.73,-.1,.78,-.03,.8,-.2,.78,-.42,.7,-.53,.86,-.38,.94,-.18,.96,-.08,.98,-.12,1.0,-.3,1.02,-.45,.9,-.55,.75,-.55,.9,-.38,.97,-.16,1.0,-.04,1.02,-.1,1.04,-.3,1.05,-.44,.92,-.56,.78,-.56,.94,-.36,1.0,-.1,1.025,.05,1.05,-.05,1.07,-.3,1.08,-.44];
// ---------- panel (d): solid rim as outline, then fine orbit ----------
const dRedRim=[-.142,1.387,-.059,1.333,-.01,1.157,0,.94,-.043,.696,-.125,.398,-.241,.182,-.389,-.062,-.554,-.266,-.719,-.469,-.884,-.618,-1.05,-.767,-1.215,-.875,-1.38,-.957,-1.545,-1.011,-1.71,-1.046,-1.776,-.984,-1.792,-.821,-1.759,-.577,-1.677,-.333,-1.545,-.008,-1.38,.236,-1.215,.439,-.983,.629,-.719,.886,-.521,1.103,-.323,1.293,-.224,1.36,-.142,1.387,-.191,1.293,-.356,1.157,-.521,.967,-.719,.778,-.917,.629,-1.116,.453,-1.28,.263,-1.446,.019,-1.611,-.279,-1.71,-.577,-1.726,-.821,-1.644,-.957,-1.446,-.875,-1.182,-.713,-.917,-.496,-.719,-.333,-.587,-.117,-.389,.154,-.257,.398,-.158,.669,-.109,.913,-.125,1.184,-.191,1.293];
const dRedCross=[-1.42,.03,-1.2,.2,-1.1,.25,-1.03,.1,-1.0,-.2,-.93,-.1,-.92,.2,-.8,.45,-.62,.75,-.5,.95,-.72,.8,-.92,.65,-1.12,.47,-1.28,.28];
const dRedPath=[-1.68,-1.0,-1.72,-.7,-1.62,-.25,-1.45,.12,-1.22,.38,-1.0,.35,-.95,0,-1.02,-.45,-1.25,-.85,-1.5,-1.0,-1.1,-.5,-1.12,-.1,-1.05,.3,-.85,.7,-.55,1.05,-.35,1.2,-.2,1.1,-.17,.7,-.3,.2,-.5,-.2,-.75,-.48,-1.0,-.58,-1.62,-.95,-1.66,-.6,-1.55,-.2,-1.38,.12,-1.2,.3,-1.07,.22,-1.03,-.1,-1.1,-.5,-1.28,-.8,-1.48,-.93,-.95,-.42,-1.03,-.1,-.98,.25,-.82,.65,-.60,.98,-.42,1.1,-.28,.95,-.27,.55,-.42,.12,-.62,-.25,-.80,-.42,-1.57,-.9,-1.60,-.6,-1.5,-.22,-1.34,.08,-1.2,.2,-1.1,.12,-1.08,-.12,-1.15,-.5,-1.32,-.76,-1.48,-.88,-.92,-.38,-.99,-.08,-.93,.27,-.78,.63,-.58,.92,-.44,1.0,-.33,.88,-.33,.52,-.47,.1,-.66,-.24,-.82,-.38,-1.52,-.85,-1.55,-.58,-1.45,-.24,-1.32,.02,-1.22,.12,-1.14,.05,-1.13,-.15,-1.2,-.48,-1.35,-.72,-1.46,-.82,-.88,-.36,-.94,-.05,-.88,.28,-.74,.62,-.57,.85,-.47,.92,-.39,.8,-.40,.48,-.53,.08,-.70,-.22,-.84,-.35,-1.48,-.78,-1.5,-.55,-1.42,-.26,-1.3,-.04,-1.23,.03,-1.18,-.03,-1.18,-.2,-1.25,-.46,-1.36,-.66,-1.44,-.75,-.84,-.32,-.90,-.03,-.83,.3,-.70,.6,-.57,.77,-.50,.8,-.44,.7,-.46,.42,-.58,.08,-.72,-.18,-.82,-.3,-1.44,-.7,-1.45,-.5,-1.38,-.28,-1.3,-.12,-1.25,-.08,-1.22,-.15,-1.24,-.3,-1.3,-.48,-1.38,-.62,-.80,-.27,-.85,0,-.78,.3,-.67,.55,-.58,.68,-.52,.68,-.48,.6,-.51,.36,-.62,.08,-.74,-.14,-.80,-.24,-.78,-.2,-.80,.02,-.73,.28,-.65,.46,-.59,.58,-.55,.55,-.54,.42,-.58,.22,-.67,.02,-.76,-.14,-1.64,-.97,-1.3,-.86,-1.05,-.68,-.85,-.5,-.72,-.38,-.9,.0,-1.2,.3,-1.42,.02,-1.58,-.35,-1.65,-.75,-1.62,-.96,-1.25,-.82,-1.0,-.62,-.82,-.44,-.7,-.3,-.45,.1,-.33,.55,-.24,.98,-.32,1.12,-.5,.98,-.85,.55,-1.2,.22,-1.47,-.1,-1.6,-.5,-1.6,-.9,-1.2,-.76,-.96,-.56,-.8,-.38,-.65,-.18,-.42,.25,-.3,.72,-.36,1.03,-.52,.94,-.8,.52,-1.12,.25,-1.4,-.05,-1.55,-.42,-1.56,-.86,-1.15,-.7,-.92,-.5,-.76,-.3,-.62,-.05,-.45,.4,-.38,.68,-.44,.9,-.62,.78,-.95,.4,-1.25,.12,-1.46,-.2,-1.52,-.6,-1.5,-.8,-1.1,-.62,-.88,-.42,-.72,-.2,-.57,.18,-.44,.55,-.5,.72,-.68,.6,-.92,.2,-1.0,-.15,-1.08,-.45,-1.28,-.7,-1.46,-.78,-1.60,-.93,-1.63,-.62,-1.53,-.21,-1.36,.1,-1.2,.25,-1.08,.17,-1.05,-.11,-1.12,-.5,-1.3,-.78,-1.48,-.9,-.93,-.4,-1.01,-.09,-.95,.26,-.8,.64,-.59,.95,-.43,1.05,-.3,.92,-.3,.54,-.45,.11,-.64,-.24,-.81,-.4,-1.545,-.875,-1.575,-.59,-1.475,-.23,-1.33,.05,-1.21,.16,-1.12,.08,-1.105,-.13,-1.175,-.49,-1.335,-.74,-1.47,-.85,-.9,-.37,-.965,-.065,-.905,.275,-.76,.625,-.575,.885,-.455,.96,-.36,.84,-.365,.5,-.5,.09,-.68,-.23,-.83,-.365,-1.5,-.815,-1.525,-.565,-1.435,-.25,-1.31,-.01,-1.225,.075,-1.16,.01,-1.155,-.175,-1.225,-.47,-1.355,-.69,-1.45,-.785,-.86,-.34,-.92,-.04,-.855,.29,-.72,.61,-.57,.81,-.485,.86,-.415,.75,-.43,.45,-.555,.08,-.71,-.2,-.83,-.325,-1.46,-.74,-1.475,-.525,-1.4,-.27,-1.3,-.08,-1.24,-.025,-1.2,-.09,-1.21,-.25,-1.275,-.47,-1.37,-.64,-.82,-.295,-.875,-.015,-.805,.3,-.685,.575,-.575,.725,-.51,.74,-.46,.65,-.485,.39,-.6,.08,-.73,-.16,-.81,-.27,-1.64,-.98,-1.68,-.65,-1.58,-.22,-1.41,.12,-1.21,.34,-1.03,.28,-.99,-.05,-1.06,-.47,-1.26,-.82,-1.49,-.96,-1.08,-.52,-1.08,-.08,-1.0,.3,-.83,.68,-.57,1.02,-.38,1.15,-.24,1.02,-.22,.62,-.36,.16,-.56,-.22,-.78,-.45,-1.02,-.55,-1.38,-.58,-1.4,-.42,-1.34,-.26,-1.28,-.2,-1.27,-.32,-1.33,-.5,-1.36,-.54,-1.34,-.36,-1.3,-.28,-1.3,-.4,-.75,-.1,-.72,.1,-.66,.3,-.6,.44,-.58,.36,-.63,.14,-.7,-.02];
const dBlueRim=[1.858,1.387,1.941,1.333,1.99,1.157,2,.94,1.957,.696,1.875,.398,1.759,.182,1.611,-.062,1.446,-.266,1.281,-.469,1.116,-.618,.95,-.767,.785,-.875,.62,-.957,.455,-1.011,.29,-1.046,.224,-.984,.208,-.821,.241,-.577,.323,-.333,.455,-.008,.62,.236,.785,.439,1.017,.629,1.281,.886,1.479,1.103,1.677,1.293,1.776,1.36,1.858,1.387,1.809,1.293,1.644,1.157,1.479,.967,1.281,.778,1.083,.629,.884,.453,.72,.263,.554,.019,.389,-.279,.29,-.577,.274,-.821,.356,-.957,.554,-.875,.818,-.713,1.083,-.496,1.281,-.333,1.413,-.117,1.611,.154,1.743,.398,1.842,.669,1.891,.913,1.875,1.184,1.809,1.293];
const dBlueCross=[.58,.03,.8,.2,.9,.25,.97,.1,1.0,-.2,1.07,-.1,1.08,.2,1.2,.45,1.38,.75,1.5,.95,1.28,.8,1.08,.65,.88,.47,.72,.28];
const dBluePath=[.32,-1.0,.28,-.7,.38,-.25,.55,.12,.78,.38,1.0,.35,1.05,0,.98,-.45,.75,-.85,.5,-1.0,.9,-.5,.88,-.1,.95,.3,1.15,.7,1.45,1.05,1.65,1.2,1.8,1.1,1.83,.7,1.7,.2,1.5,-.2,1.25,-.48,1.0,-.58,.38,-.95,.34,-.6,.45,-.2,.62,.12,.8,.3,.93,.22,.97,-.1,.9,-.5,.72,-.8,.52,-.93,1.05,-.42,.97,-.1,1.02,.25,1.18,.65,1.40,.98,1.58,1.1,1.72,.95,1.73,.55,1.58,.12,1.38,-.25,1.20,-.42,.43,-.9,.40,-.6,.5,-.22,.66,.08,.8,.2,.9,.12,.92,-.12,.85,-.5,.68,-.76,.52,-.88,1.08,-.38,1.01,-.08,1.07,.27,1.22,.63,1.42,.92,1.56,1.0,1.67,.88,1.67,.52,1.53,.1,1.34,-.24,1.18,-.38,.48,-.85,.45,-.58,.55,-.24,.68,.02,.78,.12,.86,.05,.87,-.15,.8,-.48,.65,-.72,.54,-.82,1.12,-.36,1.06,-.05,1.12,.28,1.26,.62,1.43,.85,1.53,.92,1.61,.8,1.60,.48,1.47,.08,1.30,-.22,1.16,-.35,.52,-.78,.5,-.55,.58,-.26,.7,-.04,.77,.03,.82,-.03,.82,-.2,.75,-.46,.64,-.66,.56,-.75,1.16,-.32,1.10,-.03,1.17,.3,1.30,.6,1.43,.77,1.50,.8,1.56,.7,1.54,.42,1.42,.08,1.28,-.18,1.18,-.3,.56,-.7,.55,-.5,.62,-.28,.7,-.12,.75,-.08,.78,-.15,.76,-.3,.7,-.48,.62,-.62,1.20,-.27,1.15,0,1.22,.3,1.33,.55,1.42,.68,1.48,.68,1.52,.6,1.49,.36,1.38,.08,1.26,-.14,1.20,-.24,1.22,-.2,1.20,.02,1.27,.28,1.35,.46,1.41,.58,1.45,.55,1.46,.42,1.42,.22,1.33,.02,1.24,-.14,.36,-.97,.7,-.86,.95,-.68,1.15,-.5,1.28,-.38,1.1,0,.8,.3,.58,.02,.42,-.35,.35,-.75,.38,-.96,.75,-.82,1.0,-.62,1.18,-.44,1.3,-.3,1.55,.1,1.67,.55,1.76,.98,1.68,1.12,1.5,.98,1.15,.55,.8,.22,.53,-.1,.4,-.5,.4,-.9,.8,-.76,1.04,-.56,1.2,-.38,1.35,-.18,1.58,.25,1.7,.72,1.64,1.03,1.48,.94,1.2,.52,.88,.25,.6,-.05,.45,-.42,.44,-.86,.85,-.7,1.08,-.5,1.24,-.3,1.38,-.05,1.55,.4,1.62,.68,1.56,.9,1.38,.78,1.05,.4,.75,.12,.54,-.2,.48,-.6,.5,-.8,.9,-.62,1.12,-.42,1.28,-.2,1.43,.18,1.56,.55,1.5,.72,1.32,.6,1.08,.2,1.0,-.15,.92,-.45,.72,-.7,.54,-.78,.4,-.93,.37,-.62,.47,-.21,.64,.1,.8,.25,.92,.17,.95,-.11,.88,-.5,.7,-.78,.52,-.9,1.07,-.4,.99,-.09,1.05,.26,1.2,.64,1.41,.95,1.57,1.05,1.7,.92,1.7,.54,1.55,.11,1.36,-.24,1.19,-.4,.455,-.875,.425,-.59,.525,-.23,.67,.05,.79,.16,.88,.08,.895,-.13,.825,-.49,.665,-.74,.53,-.85,1.1,-.37,1.035,-.065,1.095,.275,1.24,.625,1.425,.885,1.545,.96,1.64,.84,1.635,.5,1.5,.09,1.32,-.23,1.17,-.365,.5,-.815,.475,-.565,.565,-.25,.69,-.01,.775,.075,.84,.01,.845,-.175,.775,-.47,.645,-.69,.55,-.785,1.14,-.34,1.08,-.04,1.145,.29,1.28,.61,1.43,.81,1.515,.86,1.585,.75,1.57,.45,1.445,.08,1.29,-.2,1.17,-.325,.54,-.74,.525,-.525,.6,-.27,.7,-.08,.76,-.025,.8,-.09,.79,-.25,.725,-.47,.63,-.64,1.18,-.295,1.125,-.015,1.195,.3,1.315,.575,1.425,.725,1.49,.74,1.54,.65,1.515,.39,1.4,.08,1.27,-.16,1.19,-.27,.36,-.98,.32,-.65,.42,-.22,.59,.12,.79,.34,.97,.28,1.01,-.05,.94,-.47,.74,-.82,.51,-.96,.92,-.52,.92,-.08,1.0,.3,1.17,.68,1.43,1.02,1.62,1.15,1.76,1.02,1.78,.62,1.64,.16,1.44,-.22,1.22,-.45,.98,-.55,.62,-.58,.6,-.42,.66,-.26,.72,-.2,.73,-.32,.67,-.5,.64,-.54,.66,-.36,.7,-.28,.7,-.4,1.25,-.1,1.28,.1,1.34,.3,1.4,.44,1.42,.36,1.37,.14,1.3,-.02];
// ---------- helpers ----------
const pairs=f=>{const o=[];for(let i=0;i<f.length;i+=2)o.push([f[i],f[i+1]]);return o;};
const cols=rows=>rows.flatMap(r=>r.slice(1).map(v=>[r[0],v]));
const RED='#ff0000',BLUE='#0000ff',INK='#333333',FONT='"Liberation Serif",serif';
const panels=[
 {l:235,t:58,w:1077,h:848,xr:[-1.717,-.283],yr:[-2,2],xt:aXTicks,yt:aYTicks,xn:'{g|β}',yn:'{i|φ}{s|max}',xg:100,yg:132},
 {l:1785,t:70,w:1031,h:821,xr:[-2,2],yr:[-.536,1.5],xt:phiTicks,yt:bYTicks,xn:'{i|φ}',yn:'{i|x}{n|2}',xg:108,yg:190},
 {l:275,t:1238,w:1064,h:846,xr:[-2,2],yr:[-1,1.5],xt:phiTicks,yt:cYTicks,xn:'{i|φ}',yn:'{i|x}{n|2}',xg:108,yg:195},
 {l:1775,t:1231,w:1066,h:848,xr:[-2,2],yr:[-1.5,1.5],xt:phiTicks,yt:dYTicks,xn:'{i|φ}',yn:'{i|x}{n|2}',xg:108,yg:200}];
const rich={i:{fontFamily:FONT,fontStyle:'italic',fontWeight:'bold',fontSize:70,color:INK},
 g:{fontFamily:FONT,fontStyle:'italic',fontSize:76,color:INK},
 s:{fontFamily:FONT,fontWeight:'bold',fontSize:50,color:INK,verticalAlign:'bottom',lineHeight:90},
 n:{fontFamily:FONT,fontSize:54,color:INK,verticalAlign:'bottom',lineHeight:90}};
const fmt=v=>String(v).replace('-','\u2212');
const grid=[],xAxis=[],yAxis=[];
panels.forEach((p,i)=>{
 grid.push({left:p.l,top:p.t,width:p.w,height:p.h,containLabel:false});
 const base=(ticks)=>({type:'value',axisLine:{show:true,onZero:false,lineStyle:{color:INK,width:2.5}},
   axisTick:{show:true,inside:true,length:10,customValues:ticks,lineStyle:{color:INK,width:2}},splitLine:{show:false}});
 xAxis.push({...base(p.xt),gridIndex:i,position:'bottom',min:p.xr[0],max:p.xr[1],
   axisLabel:{customValues:p.xt,formatter:fmt,margin:24,fontFamily:FONT,fontSize:58,color:INK,hideOverlap:false},
   name:p.xn,nameLocation:'middle',nameGap:p.xg,nameTextStyle:{rich}});
 xAxis.push({...base(p.xt),gridIndex:i,position:'top',min:p.xr[0],max:p.xr[1],axisLabel:{show:false}});
 yAxis.push({...base(p.yt),gridIndex:i,position:'left',min:p.yr[0],max:p.yr[1],
   axisLabel:{customValues:p.yt,formatter:fmt,margin:18,fontFamily:FONT,fontSize:58,color:INK,hideOverlap:false},
   name:p.yn,nameLocation:'middle',nameGap:p.yg,nameRotate:90,nameTextStyle:{rich}});
 yAxis.push({...base(p.yt),gridIndex:i,position:'right',min:p.yr[0],max:p.yr[1],axisLabel:{show:false}});
});
const line=(flat,color,w,p,sm=.35)=>({type:'line',data:pairs(flat),xAxisIndex:2*p,yAxisIndex:2*p,symbol:'none',showSymbol:false,smooth:sm,
  lineStyle:{color,width:w,cap:'round',join:'round'},silent:true,animation:false});
const dots=(rows,color,size,p)=>({type:'scatter',data:cols(rows),xAxisIndex:2*p,yAxisIndex:2*p,symbolSize:size,itemStyle:{color,opacity:1},silent:true,animation:false,clip:false});
const solid=(flat,color,p,smooth=0)=>({type:'custom',coordinateSystem:'cartesian2d',xAxisIndex:2*p,yAxisIndex:2*p,clip:true,silent:true,animation:false,
  data:[[flat[0],flat[1]]],renderItem:(ps,api)=>({type:'polygon',shape:{points:pairs(flat).map(q=>api.coord(q)),smooth},style:{fill:color,stroke:color,lineWidth:1}})});
const series=[
 ...aBlueBranches.map(b=>line(b,BLUE,4,0,.2)),...aBlueBlocks.map(b=>line(b,BLUE,7,0,0)),...aBlueDense.map(b=>line(b,BLUE,11,0,.2)),
 dots(aBlueCloudTop,BLUE,4.5,0),dots(aBlueCloudMid,BLUE,4.5,0),dots(aBlueCloudLow,BLUE,4.5,0),dots(aBlueCloudEdge,BLUE,4.5,0),
 ...aRedBranches.map(b=>line(b,RED,4,0,.2)),...aRedBlocks.map(b=>line(b,RED,7,0,0)),...aRedDense.map(b=>line(b,RED,11,0,.2)),
 dots(aRedCloudTop,RED,4.5,0),dots(aRedCloudMid,RED,4.5,0),dots(aRedCloudLow,RED,4.5,0),dots(aRedCloudEdge,RED,4.5,0),dots(aRedColumn,RED,3.5,0),dots(aRedRightEdge,RED,6.5,0),
 line(bRedPath,RED,3,1,.4),line(bBluePath,BLUE,3,1,.4),
 solid(cRedSolidRight,RED,2,.3),solid(cRedSolidDiag,RED,2,.3),solid(cRedSolidFan,RED,2,.3),solid(cRedSolidSwirl,RED,2,.3),line(cRedPath,RED,3,2,.6),
 solid(cBlueSolidRight,BLUE,2,.3),solid(cBlueSolidDiag,BLUE,2,.3),solid(cBlueSolidFan,BLUE,2,.3),solid(cBlueSolidSwirl,BLUE,2,.3),line(cBluePath,BLUE,3,2,.6),
 solid(dRedRim,RED,3,.3),solid(dRedCross,RED,3,.3),line(dRedPath,RED,5,3,.6),
 solid(dBlueRim,BLUE,3,.3),solid(dBlueCross,BLUE,3,.3),line(dBluePath,BLUE,5,3,.6)];
const capRich={p:{fontFamily:FONT,fontSize:76,fontWeight:'normal',color:'#111'},b:{fontFamily:FONT,fontSize:76,fontWeight:'bold',color:'#111'}};
const cap=(t,x,y)=>({text:'{p|(}{b|'+t+'}{p|)}',left:x,top:y,textAlign:'center',textStyle:{rich:capRich}});
const chart=echarts.init(document.getElementById('c'),null,{renderer:'canvas',width:2880,height:2397});
chart.setOption({animation:false,backgroundColor:'#fff',grid,xAxis,yAxis,series,
 title:[cap('a',696,1092),cap('b',2190,1092),cap('c',696,2282),cap('d',2190,2282)]});
</script></body></html>
